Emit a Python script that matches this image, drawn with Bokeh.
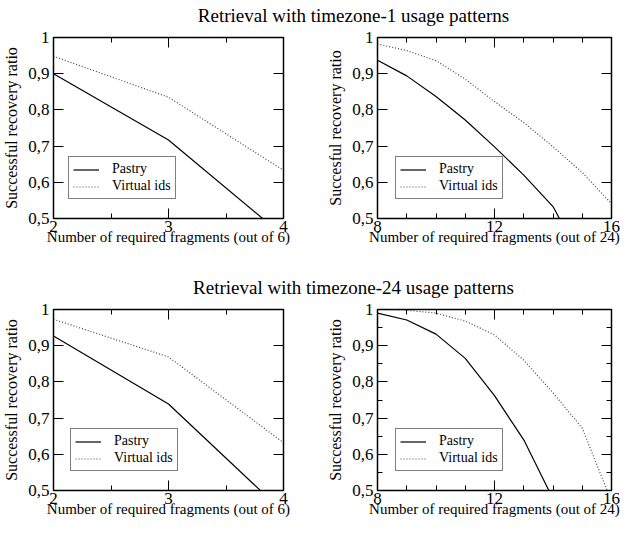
from bokeh.plotting import figure
from bokeh.models import (Range1d, FixedTicker, LinearAxis, Legend, LegendItem,
                          Label, CustomJSTickFormatter)
from bokeh.layouts import column, row
from bokeh.embed import file_html
from bokeh.resources import INLINE

FONT = "Liberation Serif"

# ---------------- data ----------------
TITLE_1 = "Retrieval with timezone-1 usage patterns"
TITLE_24 = "Retrieval with timezone-24 usage patterns"
SERIES = ["Pastry", "Virtual ids"]

X6 = [2, 3, 4]
X24 = [8, 9, 10, 11, 12, 13, 14, 15, 16]

TZ1_6_PASTRY = [0.900, 0.717, 0.452]
TZ1_6_VIRTUAL = [0.948, 0.835, 0.633]
TZ1_24_PASTRY = [0.937, 0.894, 0.837, 0.772, 0.698, 0.620, 0.533, 0.383]
TZ1_24_VIRTUAL = [0.982, 0.964, 0.936, 0.885, 0.823, 0.765, 0.698, 0.627, 0.541]
TZ24_6_PASTRY = [0.927, 0.739, 0.440]
TZ24_6_VIRTUAL = [0.973, 0.869, 0.632]
TZ24_24_PASTRY = [0.990, 0.971, 0.932, 0.865, 0.762, 0.640, 0.477]
TZ24_24_VIRTUAL = [1.000, 0.998, 0.990, 0.968, 0.930, 0.860, 0.770, 0.672, 0.470]

Y_TICKS = [0.5, 0.6, 0.7, 0.8, 0.9, 1.0]
Y_TICK_LABELS = ["0,5", "0,6", "0,7", "0,8", "0,9", "1"]
Y_MINOR = [0.55, 0.65, 0.75, 0.85, 0.95]
X6_TICKS = [2, 3, 4]
X6_MINOR = [2.5, 3.5]
X24_TICKS = [8, 12, 16]
X24_MINOR = [9, 10, 11, 13, 14, 15]

X6_LABEL = "Number of required fragments (out of 6)"
X24_LABEL = "Number of required fragments (out of 24)"
Y_LABEL = "Successful recovery ratio"
Y_LABEL_B = "Succesful recovery ratio"


def style_axis(ax, show_labels, standoff):
    ax.axis_line_color = None
    ax.major_tick_in = 10
    ax.major_tick_out = 0
    ax.minor_tick_in = 5
    ax.minor_tick_out = 0
    ax.major_tick_line_color = "black"
    ax.minor_tick_line_color = "black"
    ax.major_tick_line_width = 1
    ax.minor_tick_line_width = 1
    ax.major_label_text_font = FONT
    ax.major_label_text_color = "black"
    if show_labels:
        ax.major_label_text_font_size = "17px"
        ax.major_label_standoff = standoff
    else:
        ax.major_label_text_font_size = "0px"
        ax.major_label_standoff = 0
        ax.formatter = CustomJSTickFormatter(code="return '';")
    ax.axis_label_text_font = FONT
    ax.axis_label_text_font_style = "normal"
    ax.axis_label_text_color = "black"


def panel(x, pastry, virtual, xticks, xminor, xlabel, ylabel, yminor,
          width, left, right, height, bottom, legend_x):
    p = figure(width=width, height=height, output_backend="svg",
               toolbar_location=None,
               x_range=Range1d(xticks[0], xticks[-1]),
               y_range=Range1d(Y_TICKS[0], Y_TICKS[-1]),
               min_border_left=left, min_border_right=right,
               min_border_top=9, min_border_bottom=bottom,
               x_axis_type=None, y_axis_type=None)
    p.outline_line_color = "black"
    p.outline_line_width = 1.5
    p.background_fill_color = "white"
    p.border_fill_color = "white"

    yfmt = CustomJSTickFormatter(
        args=dict(tv=Y_TICKS, tl=Y_TICK_LABELS),
        code="""
        let best = 0;
        for (let i = 0; i < tv.length; i++) {
            if (Math.abs(tv[i] - tick) < Math.abs(tv[best] - tick)) best = i;
        }
        return tl[best];
        """)
    xt = FixedTicker(ticks=xticks, minor_ticks=xminor)
    yt = FixedTicker(ticks=Y_TICKS, minor_ticks=yminor)

    xb = LinearAxis(ticker=xt)
    style_axis(xb, True, 2)
    xb.axis_label = xlabel
    xb.axis_label_text_font_size = "15px"
    xb.axis_label_standoff = -6
    p.add_layout(xb, "below")

    xa = LinearAxis(ticker=xt)
    style_axis(xa, False, 0)
    p.add_layout(xa, "above")

    yl = LinearAxis(ticker=yt, formatter=yfmt)
    style_axis(yl, True, 4)
    yl.axis_label = ylabel
    yl.axis_label_text_font_size = "16px"
    yl.axis_label_standoff = 5
    p.add_layout(yl, "left")

    yr = LinearAxis(ticker=yt)
    style_axis(yr, False, 0)
    p.add_layout(yr, "right")

    r1 = p.line(x[:len(pastry)], pastry, line_color="black", line_width=1.2)
    r2 = p.line(x[:len(virtual)], virtual, line_color="#444444",
                line_width=1.2, line_dash="1 2")

    legend = Legend(items=[LegendItem(label=SERIES[0], renderers=[r1]),
                           LegendItem(label=SERIES[1], renderers=[r2])],
                    location=(legend_x, 19))
    legend.border_line_color = "black"
    legend.border_line_width = 1
    legend.background_fill_color = "white"
    legend.background_fill_alpha = 1
    legend.padding = 4
    legend.spacing = 1
    legend.margin = 0
    legend.glyph_width = 26
    legend.glyph_height = 15
    legend.label_height = 15
    legend.label_standoff = 13
    legend.label_text_font = FONT
    legend.label_text_font_size = "14px"
    legend.label_text_color = "black"
    p.add_layout(legend)
    return p


def title_fig(text, width, height):
    t = figure(width=width, height=height, output_backend="svg",
               toolbar_location=None,
               x_range=Range1d(0, width), y_range=Range1d(0, height),
               min_border=0, x_axis_type=None, y_axis_type=None)
    t.outline_line_color = None
    t.background_fill_color = "white"
    t.border_fill_color = "white"
    t.add_layout(Label(x=353, y=13, text=text, text_align="center",
                       text_baseline="alphabetic", text_font=FONT,
                       text_font_size="19px", text_color="black"))
    return t


t1 = title_fig(TITLE_1, 620, 28)
tl = panel(X6, TZ1_6_PASTRY, TZ1_6_VIRTUAL, X6_TICKS, X6_MINOR, X6_LABEL,
           Y_LABEL, [], 307, 49, 24, 244, 54, 15)
tr = panel(X24, TZ1_24_PASTRY, TZ1_24_VIRTUAL, X24_TICKS, X24_MINOR, X24_LABEL,
           Y_LABEL_B, [], 313, 70, 9, 244, 54, 18)
t2 = title_fig(TITLE_24, 620, 28)
bl = panel(X6, TZ24_6_PASTRY, TZ24_6_VIRTUAL, X6_TICKS, X6_MINOR, X6_LABEL,
           Y_LABEL, [], 307, 49, 24, 222, 32, 17)
br = panel(X24, TZ24_24_PASTRY, TZ24_24_VIRTUAL, X24_TICKS, X24_MINOR, X24_LABEL,
           Y_LABEL, Y_MINOR, 313, 70, 9, 222, 32, 18)

layout = column(t1, row(tl, tr), t2, row(bl, br))

with open("out.html", "w") as f:
    f.write(file_html(layout, INLINE))
